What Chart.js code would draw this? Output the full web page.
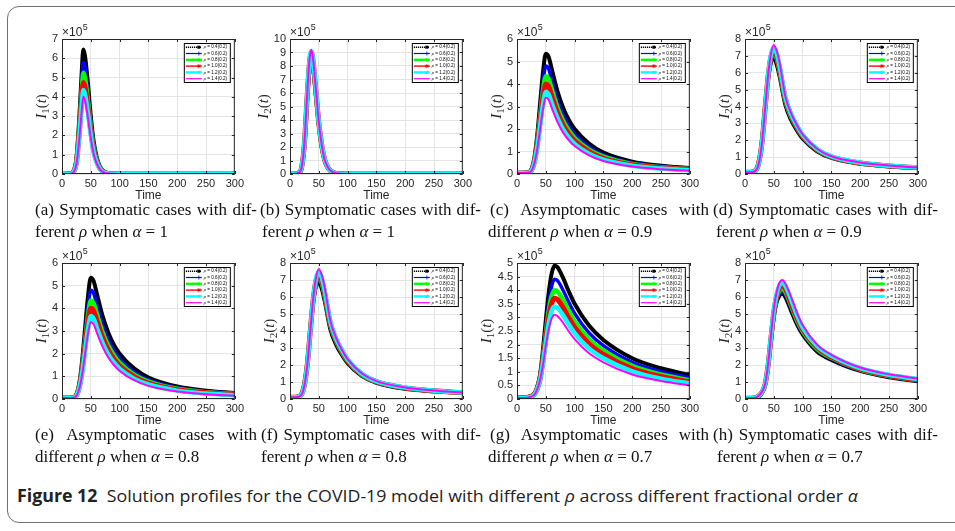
<!DOCTYPE html>
<html>
<head>
<meta charset="utf-8">
<script src="https://cdn.jsdelivr.net/npm/chart.js@4.4.0/dist/chart.umd.min.js"></script>
<style>
  body { margin: 0; width: 955px; height: 531px; background: #fff; position: relative; overflow: hidden; }
  .frame { position: absolute; left: 7px; top: 6px; width: 1000px; height: 515px; border: 1.5px solid #707070; border-radius: 12px; }
  canvas { position: absolute; }
  .cap { position: absolute; font-family: "Liberation Serif", serif; font-size: 17px; line-height: 20px; color: #111; white-space: nowrap; }
  .l1 { display: flex; justify-content: space-between; }
  .fig { position: absolute; left: 17px; top: 485px; font-family: "Open Sans", sans-serif; font-size: 17px; line-height: 22px; color: #222; white-space: nowrap; transform-origin: 0 50%; }
</style>
</head>
<body>
<div class="frame"></div>
<div class="fig" id="figcap"><b>Figure 12</b>&nbsp;&nbsp;Solution profiles for the COVID-19 model with different <i>ρ</i> across different fractional order <i>α</i></div>
<script>
// rho values of the six curves, same order in every panel below
const rhoLabels = ['0.4(0.2)', '0.6(0.2)', '0.8(0.2)', '1.0(0.2)', '1.2(0.2)', '1.4(0.2)']

// time grids (days)
const timeAB = [0, 10, 15, 20, 25, 30, 34, 37, 40, 45, 50, 55, 60, 65, 70, 80, 90, 100, 150, 200, 250, 300]
const timeCF = [0, 10, 20, 25, 30, 35, 40, 45, 50, 55, 60, 70, 80, 90, 100, 125, 150, 200, 250, 300]
const timeGH = [0, 10, 20, 30, 35, 40, 45, 50, 55, 60, 65, 70, 80, 90, 100, 125, 150, 200, 250, 300]

// values in units of 1e5
// (a) I1, alpha = 1
const symA = [
  [0, 0.01, 0.03, 0.15, 0.8, 2.9, 5.15, 6.45, 6.1, 4.7, 3.0, 1.68, 0.9, 0.45, 0.2, 0.04, 0.01, 0, 0, 0, 0, 0],
  [0, 0.01, 0.03, 0.13, 0.72, 2.61, 4.64, 5.8, 5.5, 4.23, 2.7, 1.51, 0.81, 0.41, 0.18, 0.035, 0.01, 0, 0, 0, 0, 0],
  [0, 0.01, 0.03, 0.12, 0.65, 2.36, 4.2, 5.25, 4.98, 3.83, 2.44, 1.37, 0.74, 0.37, 0.16, 0.03, 0.01, 0, 0, 0, 0, 0],
  [0, 0.01, 0.02, 0.11, 0.59, 2.14, 3.8, 4.75, 4.5, 3.47, 2.21, 1.24, 0.67, 0.33, 0.15, 0.03, 0.01, 0, 0, 0, 0, 0],
  [0, 0.01, 0.02, 0.1, 0.54, 1.96, 3.48, 4.35, 4.12, 3.18, 2.02, 1.13, 0.61, 0.3, 0.13, 0.03, 0.01, 0, 0, 0, 0, 0],
  [0, 0, 0.02, 0.09, 0.5, 1.8, 3.2, 4.0, 3.8, 2.92, 1.86, 1.04, 0.56, 0.28, 0.12, 0.02, 0.01, 0, 0, 0, 0, 0]
]
// (b) I2, alpha = 1
const symB = [
  [0, 0.02, 0.09, 0.43, 2.1, 5.6, 7.9, 8.5, 7.9, 5.8, 3.6, 2.0, 1.0, 0.5, 0.24, 0.04, 0.01, 0, 0, 0, 0, 0],
  [0, 0.02, 0.09, 0.44, 2.15, 5.7, 8.05, 8.7, 8.1, 5.9, 3.65, 2.05, 1.03, 0.52, 0.24, 0.04, 0.01, 0, 0, 0, 0, 0],
  [0, 0.02, 0.09, 0.44, 2.2, 5.8, 8.2, 8.85, 8.2, 6.0, 3.7, 2.1, 1.06, 0.53, 0.25, 0.04, 0.01, 0, 0, 0, 0, 0],
  [0, 0.02, 0.09, 0.45, 2.25, 5.9, 8.3, 9.0, 8.35, 6.1, 3.8, 2.15, 1.08, 0.54, 0.25, 0.05, 0.01, 0, 0, 0, 0, 0],
  [0, 0.02, 0.09, 0.45, 2.28, 6.0, 8.45, 9.1, 8.45, 6.2, 3.82, 2.18, 1.1, 0.55, 0.25, 0.05, 0.01, 0, 0, 0, 0, 0],
  [0, 0.02, 0.09, 0.46, 2.3, 6.05, 8.55, 9.2, 8.55, 6.25, 3.85, 2.2, 1.1, 0.55, 0.26, 0.05, 0.01, 0, 0, 0, 0, 0]
]
// (c) I1, alpha = 0.9 (panel (e), alpha = 0.8, reads the same)
const asymC = [
  [0.05, 0.05, 0.08, 0.2, 0.7, 1.7, 3.1, 4.5, 5.35, 5.2, 4.7, 3.7, 2.95, 2.4, 2.0, 1.35, 0.95, 0.55, 0.37, 0.27],
  [0.05, 0.05, 0.08, 0.18, 0.63, 1.53, 2.8, 4.05, 4.8, 4.67, 4.2, 3.3, 2.63, 2.14, 1.78, 1.2, 0.85, 0.5, 0.34, 0.25],
  [0.05, 0.05, 0.07, 0.16, 0.57, 1.38, 2.52, 3.66, 4.35, 4.22, 3.8, 2.98, 2.37, 1.93, 1.6, 1.08, 0.77, 0.45, 0.3, 0.22],
  [0.05, 0.05, 0.07, 0.15, 0.52, 1.27, 2.32, 3.37, 4.0, 3.88, 3.5, 2.75, 2.18, 1.77, 1.47, 0.99, 0.7, 0.41, 0.28, 0.2],
  [0.05, 0.05, 0.06, 0.14, 0.48, 1.16, 2.11, 3.07, 3.65, 3.54, 3.18, 2.5, 1.98, 1.61, 1.34, 0.9, 0.64, 0.37, 0.24, 0.17],
  [0.04, 0.04, 0.06, 0.13, 0.45, 1.08, 1.97, 2.86, 3.4, 3.3, 2.96, 2.33, 1.84, 1.5, 1.24, 0.83, 0.58, 0.33, 0.21, 0.14]
]
// (d) I2, alpha = 0.9 (panel (f), alpha = 0.8, reads the same)
const symD = [
  [0.1, 0.1, 0.3, 0.9, 2.1, 4.0, 5.6, 6.6, 6.9, 6.5, 5.8, 4.1, 3.2, 2.6, 2.1, 1.35, 0.95, 0.6, 0.45, 0.35],
  [0.1, 0.1, 0.29, 0.88, 2.08, 3.98, 5.65, 6.7, 7.05, 6.7, 5.95, 4.25, 3.3, 2.68, 2.17, 1.39, 0.97, 0.62, 0.46, 0.36],
  [0.1, 0.1, 0.28, 0.86, 2.05, 3.95, 5.7, 6.85, 7.2, 6.85, 6.1, 4.35, 3.4, 2.75, 2.23, 1.42, 1.0, 0.64, 0.47, 0.37],
  [0.1, 0.1, 0.27, 0.84, 2.03, 3.93, 5.75, 6.95, 7.35, 7.0, 6.25, 4.45, 3.5, 2.82, 2.28, 1.45, 1.02, 0.65, 0.48, 0.37],
  [0.1, 0.1, 0.26, 0.82, 2.01, 3.9, 5.78, 7.05, 7.5, 7.15, 6.4, 4.55, 3.55, 2.88, 2.32, 1.48, 1.04, 0.67, 0.49, 0.38],
  [0.1, 0.1, 0.25, 0.8, 2.0, 3.9, 5.8, 7.1, 7.65, 7.3, 6.6, 4.6, 3.6, 2.9, 2.35, 1.5, 1.05, 0.68, 0.5, 0.38]
]
// (g) I1, alpha = 0.7
const asymG = [
  [0.05, 0.05, 0.08, 0.2, 0.45, 0.9, 1.8, 2.9, 3.9, 4.6, 4.9, 4.85, 4.45, 3.95, 3.5, 2.7, 2.17, 1.5, 1.13, 0.88],
  [0.05, 0.05, 0.08, 0.19, 0.42, 0.82, 1.63, 2.62, 3.52, 4.13, 4.4, 4.36, 4.0, 3.55, 3.15, 2.43, 1.96, 1.35, 1.01, 0.78],
  [0.05, 0.05, 0.07, 0.17, 0.39, 0.76, 1.5, 2.4, 3.22, 3.77, 4.0, 3.96, 3.64, 3.23, 2.86, 2.2, 1.78, 1.22, 0.9, 0.69],
  [0.05, 0.05, 0.07, 0.17, 0.37, 0.72, 1.41, 2.23, 2.98, 3.5, 3.7, 3.66, 3.36, 2.98, 2.64, 2.03, 1.64, 1.12, 0.83, 0.63],
  [0.04, 0.04, 0.06, 0.16, 0.36, 0.7, 1.33, 2.07, 2.77, 3.23, 3.4, 3.36, 3.08, 2.74, 2.42, 1.86, 1.5, 1.02, 0.75, 0.57],
  [0.04, 0.04, 0.06, 0.15, 0.35, 0.7, 1.25, 1.95, 2.55, 2.95, 3.1, 3.05, 2.8, 2.48, 2.2, 1.68, 1.35, 0.9, 0.66, 0.5]
]
// (h) I2, alpha = 0.7
const symH = [
  [0.05, 0.05, 0.1, 0.4, 0.85, 1.9, 3.4, 4.8, 5.7, 6.1, 6.2, 6.0, 5.2, 4.4, 3.8, 2.8, 2.3, 1.65, 1.28, 1.05],
  [0.05, 0.05, 0.1, 0.41, 0.86, 1.92, 3.45, 4.9, 5.82, 6.25, 6.35, 6.15, 5.35, 4.53, 3.9, 2.88, 2.36, 1.69, 1.31, 1.08],
  [0.05, 0.05, 0.1, 0.42, 0.87, 1.94, 3.5, 5.0, 5.95, 6.4, 6.5, 6.3, 5.5, 4.65, 4.0, 2.95, 2.42, 1.73, 1.35, 1.1],
  [0.05, 0.05, 0.1, 0.43, 0.88, 1.96, 3.56, 5.1, 6.05, 6.55, 6.7, 6.5, 5.65, 4.8, 4.12, 3.04, 2.48, 1.77, 1.38, 1.13],
  [0.05, 0.05, 0.1, 0.44, 0.89, 1.98, 3.63, 5.2, 6.18, 6.7, 6.85, 6.65, 5.85, 4.95, 4.22, 3.12, 2.54, 1.81, 1.42, 1.17],
  [0.05, 0.05, 0.1, 0.45, 0.9, 2.0, 3.7, 5.3, 6.3, 6.85, 7.0, 6.8, 6.0, 5.1, 4.35, 3.2, 2.6, 1.85, 1.45, 1.2]
]

const lineColors = ['#000000', '#0000ff', '#00ff00', '#ff0000', '#00ffff', '#ff00ff']
const lineWidths = [4, 3.5, 4.5, 5, 4.5, 2]
const legendWidths = [1.6, 1.2, 2.4, 1.4, 2.4, 1.2]

const PAD_L = 46, PAD_R = 12, PAD_T = 18, PAD_B = 30
const SANS = '"Liberation Sans", Arial, sans-serif'
const SERIF = '"Liberation Serif", serif'

const panels = [
  { left: 62, top: 39, w: 173, h: 135, time: timeAB, series: symA, ymax: 7, step: 1, sub: '1', yt: 21,
    cap1: '(a) Symptomatic cases with dif-', cap2: 'ferent <i>ρ</i> when <i>α</i> = 1', cx: 35, cw: 222, c2x: 35 },
  { left: 290, top: 39, w: 173, h: 135, time: timeAB, series: symB, ymax: 10, step: 1, sub: '2', yt: 27,
    cap1: '(b) Symptomatic cases with dif-', cap2: 'ferent <i>ρ</i> when <i>α</i> = 1', cx: 260, cw: 221, c2x: 262 },
  { left: 517, top: 39, w: 173, h: 135, time: timeCF, series: asymC, ymax: 6, step: 1, sub: '1', yt: 21,
    cap1: '(c) Asymptomatic cases with', cap2: 'different <i>ρ</i> when <i>α</i> = 0.9', cx: 490, cw: 219, c2x: 488 },
  { left: 745, top: 39, w: 173, h: 135, time: timeCF, series: symD, ymax: 8, step: 1, sub: '2', yt: 21,
    cap1: '(d) Symptomatic cases with dif-', cap2: 'ferent <i>ρ</i> when <i>α</i> = 0.9', cx: 713, cw: 225, c2x: 716 },
  { left: 62, top: 263, w: 173, h: 136, time: timeCF, series: asymC, ymax: 6, step: 1, sub: '1', yt: 21,
    cap1: '(e) Asymptomatic cases with', cap2: 'different <i>ρ</i> when <i>α</i> = 0.8', cx: 35, cw: 222, c2x: 35 },
  { left: 290, top: 263, w: 173, h: 136, time: timeCF, series: symD, ymax: 8, step: 1, sub: '2', yt: 21,
    cap1: '(f) Symptomatic cases with dif-', cap2: 'ferent <i>ρ</i> when <i>α</i> = 0.8', cx: 261, cw: 220, c2x: 261 },
  { left: 517, top: 263, w: 173, h: 136, time: timeGH, series: asymG, ymax: 5, step: 0.5, sub: '1', yt: 31,
    cap1: '(g) Asymptomatic cases with', cap2: 'different <i>ρ</i> when <i>α</i> = 0.7', cx: 490, cw: 219, c2x: 488 },
  { left: 745, top: 263, w: 173, h: 136, time: timeGH, series: symH, ymax: 8, step: 1, sub: '2', yt: 21,
    cap1: '(h) Symptomatic cases with dif-', cap2: 'ferent <i>ρ</i> when <i>α</i> = 0.7', cx: 713, cw: 225, c2x: 717 }
]

function drawMarker(ctx, i, x, y) {
  ctx.save()
  ctx.setLineDash([])
  ctx.fillStyle = lineColors[i]
  ctx.strokeStyle = lineColors[i]
  ctx.lineWidth = 0.8
  if (i === 0 || i === 4) {
    ctx.fillRect(x - 1.5, y - 1.5, 3, 3)
  } else if (i === 1) {
    ctx.beginPath(); ctx.moveTo(x - 2, y); ctx.lineTo(x + 2, y); ctx.moveTo(x, y - 2); ctx.lineTo(x, y + 2); ctx.stroke()
  } else if (i === 2) {
    ctx.beginPath(); ctx.arc(x, y, 1.6, 0, Math.PI * 2); ctx.fill()
  } else if (i === 3) {
    ctx.beginPath()
    ctx.moveTo(x - 2, y); ctx.lineTo(x + 2, y)
    ctx.moveTo(x - 1.4, y - 1.4); ctx.lineTo(x + 1.4, y + 1.4)
    ctx.moveTo(x - 1.4, y + 1.4); ctx.lineTo(x + 1.4, y - 1.4)
    ctx.moveTo(x, y - 2); ctx.lineTo(x, y + 2)
    ctx.stroke()
  }
  ctx.restore()
}

const decor = {
  id: 'decor',
  afterDraw(chart, args, opts) {
    const { ctx, chartArea: a, scales } = chart
    ctx.save()
    ctx.strokeStyle = '#262626'
    ctx.lineWidth = 1
    ctx.strokeRect(a.left + 0.5, a.top + 0.5, a.width - 1, a.height - 1)

    // inward tick marks on all four sides
    ctx.beginPath()
    scales.x.ticks.forEach(t => {
      const x = Math.round(scales.x.getPixelForValue(t.value)) + 0.5
      ctx.moveTo(x, a.bottom); ctx.lineTo(x, a.bottom - 3)
      ctx.moveTo(x, a.top); ctx.lineTo(x, a.top + 3)
    })
    scales.y.ticks.forEach(t => {
      const y = Math.round(scales.y.getPixelForValue(t.value)) + 0.5
      ctx.moveTo(a.left, y); ctx.lineTo(a.left + 3, y)
      ctx.moveTo(a.right, y); ctx.lineTo(a.right - 3, y)
    })
    ctx.stroke()

    // x10^5 exponent
    ctx.fillStyle = '#262626'
    ctx.textAlign = 'left'
    ctx.textBaseline = 'alphabetic'
    ctx.font = '12px ' + SANS
    ctx.fillText('×10', a.left, a.top - 3)
    const ew = ctx.measureText('×10').width
    ctx.font = '9px ' + SANS
    ctx.fillText('5', a.left + ew + 0.5, a.top - 9)

    // x title
    ctx.font = '12px ' + SANS
    ctx.textAlign = 'center'
    ctx.textBaseline = 'middle'
    ctx.fillText('Time', (a.left + a.right) / 2, a.bottom + 22)

    // y title I_k(t)
    const parts = [
      ['I', 'italic 15px ' + SERIF, 0],
      [opts.sub, '11px ' + SERIF, 3],
      ['(', '15px ' + SERIF, 0],
      ['t', 'italic 15px ' + SERIF, 0],
      [')', '15px ' + SERIF, 0]
    ]
    let total = 0
    parts.forEach(p => { ctx.font = p[1]; total += ctx.measureText(p[0]).width })
    ctx.save()
    ctx.translate(a.left - opts.yt, (a.top + a.bottom) / 2)
    ctx.rotate(-Math.PI / 2)
    ctx.textAlign = 'left'
    ctx.textBaseline = 'alphabetic'
    let px = -total / 2
    parts.forEach(p => {
      ctx.font = p[1]
      ctx.fillText(p[0], px, 5 + p[2])
      px += ctx.measureText(p[0]).width
    })
    ctx.restore()

    // legend box
    const lw = 47, lh = 40
    const lx = a.right - 4 - lw, ly = a.top + 4
    ctx.fillStyle = '#fff'
    ctx.fillRect(lx, ly, lw, lh)
    ctx.strokeStyle = '#000'
    ctx.lineWidth = 1
    ctx.strokeRect(lx + 0.5, ly + 0.5, lw - 1, lh - 1)
    for (let i = 0; i < 6; i++) {
      const y = ly + 4.2 + i * 6.3
      ctx.strokeStyle = lineColors[i]
      ctx.lineWidth = legendWidths[i]
      ctx.setLineDash(i === 0 ? [1.2, 0.8] : [])
      ctx.beginPath(); ctx.moveTo(lx + 2, y); ctx.lineTo(lx + 18, y); ctx.stroke()
      ctx.setLineDash([])
      drawMarker(ctx, i, lx + 15, y)
      ctx.fillStyle = '#000'
      ctx.textAlign = 'left'
      ctx.textBaseline = 'middle'
      ctx.font = 'italic 4.6px ' + SERIF
      ctx.fillText('ρ', lx + 20, y)
      const rw = ctx.measureText('ρ').width
      ctx.font = '4.6px ' + SANS
      ctx.fillText(' = ' + rhoLabels[i], lx + 20 + rw, y)
    }
    ctx.restore()
  }
}

function makePanel(p) {
  const cv = document.createElement('canvas')
  cv.width = PAD_L + p.w + PAD_R
  cv.height = PAD_T + p.h + PAD_B
  cv.style.left = (p.left - PAD_L) + 'px'
  cv.style.top = (p.top - PAD_T) + 'px'
  document.body.appendChild(cv)

  const datasets = p.series.map((vals, i) => ({
    label: 'ρ = ' + rhoLabels[i],
    data: p.time.map((t, k) => ({ x: t, y: vals[k] })),
    borderColor: lineColors[i],
    backgroundColor: lineColors[i],
    borderWidth: lineWidths[i],
    pointRadius: 0,
    cubicInterpolationMode: 'monotone',
    fill: false,
    order: 6 - i
  }))

  new Chart(cv, {
    type: 'line',
    data: { datasets },
    options: {
      responsive: false,
      animation: false,
      layout: { padding: { top: PAD_T, right: PAD_R, left: 0, bottom: 0 }, autoPadding: false },
      scales: {
        x: {
          type: 'linear', min: 0, max: 300,
          ticks: { stepSize: 50, padding: 3, color: '#262626', font: { family: SANS, size: 11 }, maxRotation: 0, autoSkip: false },
          grid: { color: '#e4e4e4', drawTicks: false },
          border: { display: false },
          afterFit: s => { s.height = PAD_B }
        },
        y: {
          min: 0, max: p.ymax,
          ticks: { stepSize: p.step, padding: 4, color: '#262626', font: { family: SANS, size: 11 }, autoSkip: false,
                   callback: v => String(Math.round(v * 10) / 10) },
          grid: { color: '#e4e4e4', drawTicks: false },
          border: { display: false },
          afterFit: s => { s.width = PAD_L }
        }
      },
      plugins: { legend: { display: false }, tooltip: { enabled: false }, decor: { sub: p.sub, yt: p.yt } }
    },
    plugins: [decor]
  })

  // sub caption: first line justified, second line left
  const l1 = document.createElement('div')
  l1.className = 'cap l1'
  l1.style.left = p.cx + 'px'
  l1.style.width = p.cw + 'px'
  l1.style.top = (p.top + p.h + 26) + 'px'
  l1.innerHTML = p.cap1.split(' ').map(w => '<span>' + w + '</span>').join('')
  document.body.appendChild(l1)

  const l2 = document.createElement('div')
  l2.className = 'cap'
  l2.style.left = p.c2x + 'px'
  l2.style.top = (p.top + p.h + 48) + 'px'
  l2.innerHTML = p.cap2
  document.body.appendChild(l2)
}

panels.forEach(makePanel)

// stretch the figure caption to the width it has in the reference
const fig = document.getElementById('figcap')
fig.style.transform = 'scaleX(' + (841 / fig.scrollWidth) + ')'
</script>
</body>
</html>
